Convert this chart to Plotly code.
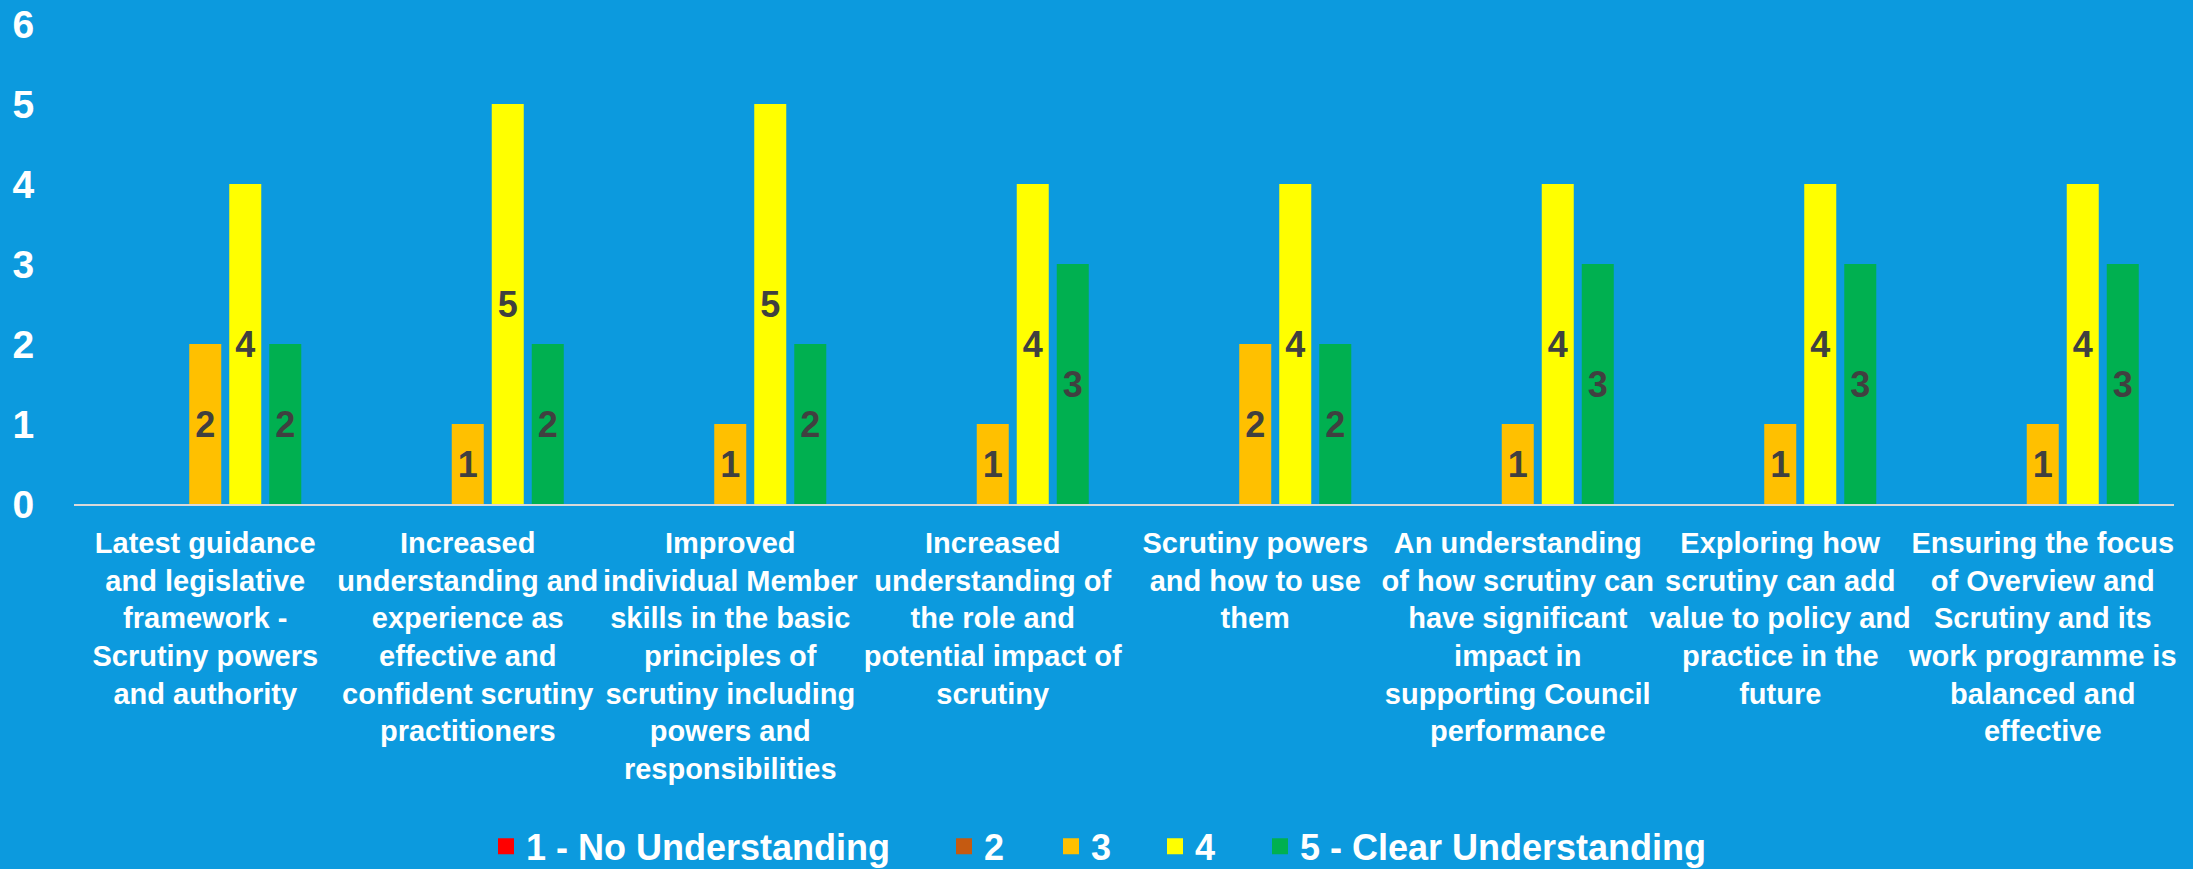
import plotly.graph_objects as go

categories = [
    "Latest guidance<br>and legislative<br>framework -<br>Scrutiny powers<br>and authority",
    "Increased<br>understanding and<br>experience as<br>effective and<br>confident scrutiny<br>practitioners",
    "Improved<br>individual Member<br>skills in the basic<br>principles of<br>scrutiny including<br>powers and<br>responsibilities",
    "Increased<br>understanding of<br>the role and<br>potential impact of<br>scrutiny",
    "Scrutiny powers<br>and how to use<br>them",
    "An understanding<br>of how scrutiny can<br>have significant<br>impact in<br>supporting Council<br>performance",
    "Exploring how<br>scrutiny can add<br>value to policy and<br>practice in the<br>future",
    "Ensuring the focus<br>of Overview and<br>Scrutiny and its<br>work programme is<br>balanced and<br>effective",
]

series_names = ["1 - No Understanding", "2", "3", "4", "5 - Clear Understanding"]
no_understanding = [0, 0, 0, 0, 0, 0, 0, 0]
score_2 = [0, 0, 0, 0, 0, 0, 0, 0]
score_3 = [2, 1, 1, 1, 2, 1, 1, 1]
score_4 = [4, 5, 5, 4, 4, 4, 4, 4]
clear_understanding = [2, 2, 2, 3, 2, 3, 3, 3]

series_values = [no_understanding, score_2, score_3, score_4, clear_understanding]
series_colors = ["#FF0000", "#C55A11", "#FFC000", "#FFFF00", "#00B050"]
legend_widths = [413, 62, 59, 60, None]

BG = "#0C9ADE"
FONT = "Liberation Sans, Arial, sans-serif"

fig = go.Figure()
for name, vals, col in zip(series_names, series_values, series_colors):
    fig.add_trace(go.Bar(
        x=categories, y=vals, name=name, legendgroup=name, showlegend=False,
        marker=dict(color=col, line=dict(width=0)),
        text=[str(v) if v else "" for v in vals],
        textposition="inside", insidetextanchor="middle",
        constraintext="none",
        textfont=dict(family=FONT, size=36, color="#404040", weight="bold"),
        cliponaxis=False,
    ))

# legend entries (larger square swatches)
for name, col, lw in zip(series_names, series_colors, legend_widths):
    kw = {} if lw is None else {"legendwidth": lw}
    fig.add_trace(go.Scatter(
        x=[None], y=[None], name=name, legendgroup=name, mode="markers",
        marker=dict(symbol="square", size=16, color=col, line=dict(width=0)),
        hoverinfo="skip", **kw,
    ))

fig.update_layout(
    width=2193, height=869,
    paper_bgcolor=BG, plot_bgcolor=BG,
    barmode="group", bargap=0.238, bargroupgap=0.2,
    margin=dict(l=74, r=19, t=24, b=365, autoexpand=False),
    font=dict(family=FONT, color="white"),
    showlegend=True,
    legend=dict(
        orientation="h", x=(486 - 74) / 2100, xanchor="left", y=-0.713, yanchor="middle",
        font=dict(family=FONT, size=36, color="white", weight="bold"),
        bgcolor="rgba(0,0,0,0)", traceorder="normal",
    ),
)
fig.update_xaxes(
    showline=True, linecolor="#D9D9D9", linewidth=2,
    showgrid=False, ticks="outside", ticklen=12, tickcolor="rgba(0,0,0,0)",
    tickfont=dict(family=FONT, size=29, color="white", weight="bold"),
    tickangle=0,
)
fig.update_yaxes(
    range=[0, 6], dtick=1, showgrid=False, zeroline=False, showline=False,
    ticks="outside", ticklen=31, tickcolor="rgba(0,0,0,0)",
    tickfont=dict(family=FONT, size=39, color="white", weight="bold"),
)

fig.write_html(
    "out.html",
    config={"displayModeBar": False},
    post_script="document.body.style.margin='0px';document.body.style.background='%s';" % BG,
)
